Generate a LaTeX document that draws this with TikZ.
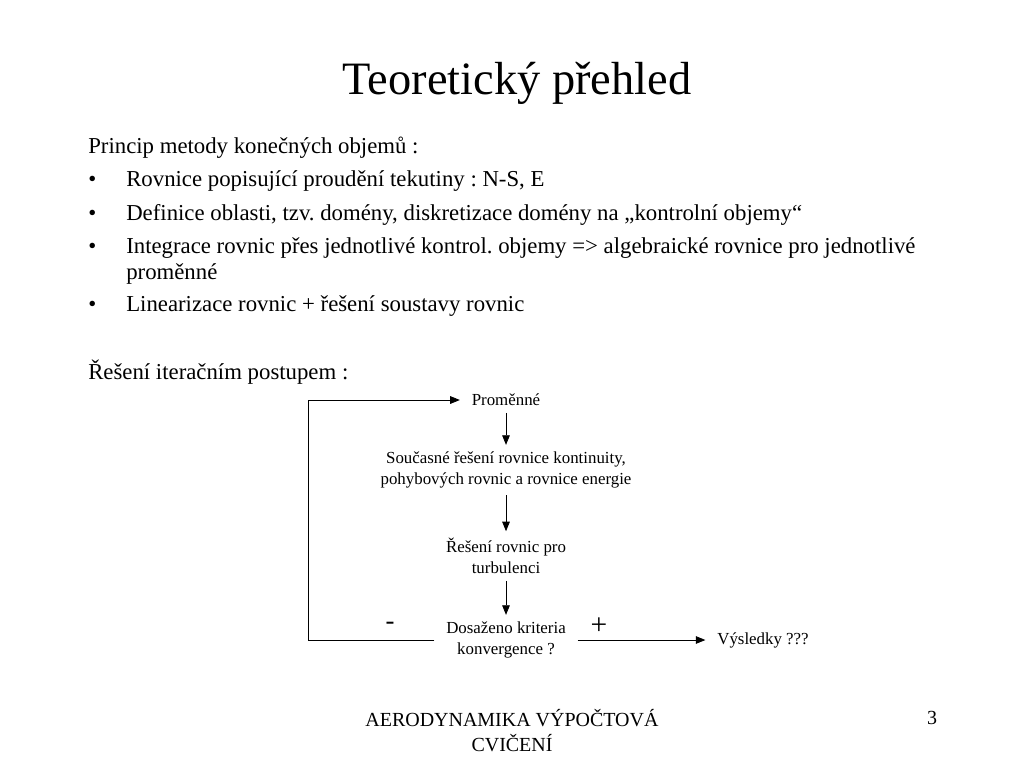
\documentclass[tikz,border=0pt]{standalone}
\usepackage{fontspec}
\setmainfont{Liberation Serif}
\usetikzlibrary{arrows.meta, calc}
\frenchspacing

\begin{document}
\begin{tikzpicture}[x=0.025cm, y=-0.025cm,
    body/.style={anchor=west, inner sep=0pt, font=\fontsize{16.2}{20}\selectfont},
    step box/.style={inner sep=0pt, outer xsep=8.5pt, outer ysep=5pt, align=center,
        font=\fontsize{12}{14.8}\selectfont},
    flow/.style={-{Triangle[length=2.4mm, width=1.9mm]}, line width=0.6pt}]

    % Define page size
    \useasboundingbox (0,0) rectangle (1024,768);

    % Title
    \node[inner sep=0pt, font=\fontsize{33}{40}\selectfont] (title) at (517,83) {Teoretický přehled};

    % Body text
    \node[body] (princip) at (88,148) {Princip metody konečných objemů :};
    \foreach \y/\txt [count=\i] in {181/{Rovnice popisující proudění tekutiny : N-S, E},
        215/{Definice oblasti, tzv. domény, diskretizace domény na „kontrolní objemy“},
        248/{Integrace rovnic přes jednotlivé kontrol. objemy => algebraické rovnice pro jednotlivé},
        306/{Linearizace rovnic + řešení soustavy rovnic}}
    {
        \node[body] (bul\i) at (88,\y) {•};
        \node[body] (item\i) at (126,\y) {\txt};
    }
    \node[body] (item3b) at (126,274) {proměnné};
    \node[body] (iter) at (88,372) {Řešení iteračním postupem :};

    % Flow chart
    \node[step box] (prom) at (506,400) {Proměnné};
    \node[step box] (soucas) at (506,470) {Současné řešení rovnice kontinuity,\\pohybových rovnic a rovnice energie};
    \node[step box] (turb) at (506,556) {Řešení rovnic pro\\turbulenci};
    \node[step box] (konv) at (506,640) {Dosaženo kriteria\\konvergence ?};
    \node[step box] (vysl) at (763,640) {Výsledky ???};
    \coordinate (loop) at (308,640);

    % Connectors
    \draw[flow] (prom) -- (soucas);
    \draw[flow] (soucas) -- (turb);
    \draw[flow] (turb) -- (konv);
    \draw[flow] (konv) -- (vysl);
    \draw[flow] (konv.west) -- (loop) |- (prom.west);

    % Branch signs
    \node[inner sep=0pt, font=\fontsize{19}{20}\selectfont] (minus) at (390,626) {-};
    \node[inner sep=0pt, font=\fontsize{21}{22}\selectfont] (plus) at (599,626) {+};

    % Footer
    \node[inner sep=0pt, align=center, font=\fontsize{14.2}{17.8}\selectfont] (foot) at (512,731) {AERODYNAMIKA VÝPOČTOVÁ\\CVIČENÍ};
    \node[inner sep=0pt, font=\fontsize{14.2}{17.8}\selectfont] (page) at (932,718) {3};
\end{tikzpicture}
\end{document}
